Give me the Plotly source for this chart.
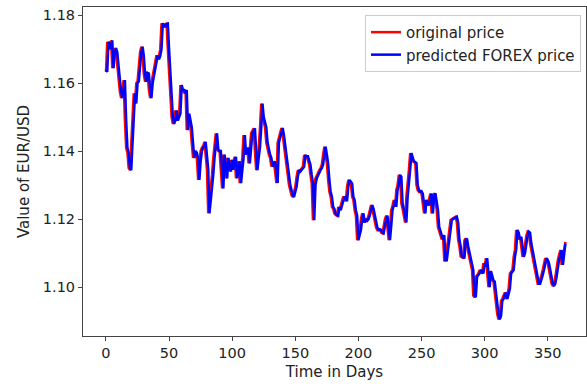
import plotly.graph_objects as go

days = list(range(365))

original_price = [
    1.1633, 1.1721, 1.1715, 1.1700, 1.1726, 1.1644, 1.1690, 1.1703, 1.1690, 1.1650,
    1.1609, 1.1575, 1.1556, 1.1590, 1.1609, 1.1490, 1.1410, 1.1395, 1.1350, 1.1344,
    1.1420, 1.1500, 1.1570, 1.1540, 1.1600, 1.1605, 1.1650, 1.1690, 1.1707, 1.1680,
    1.1625, 1.1604, 1.1630, 1.1628, 1.1580, 1.1556, 1.1600, 1.1620, 1.1638, 1.1660,
    1.1682, 1.1670, 1.1680, 1.1700, 1.1776, 1.1770, 1.1765, 1.1774, 1.1775, 1.1700,
    1.1638, 1.1570, 1.1500, 1.1480, 1.1490, 1.1520, 1.1490, 1.1500, 1.1510, 1.1594,
    1.1580, 1.1580, 1.1570, 1.1580, 1.1462, 1.1510, 1.1490, 1.1470, 1.1423, 1.1380,
    1.1400, 1.1395, 1.1380, 1.1315, 1.1370, 1.1400, 1.1410, 1.1415, 1.1427, 1.1390,
    1.1347, 1.1217, 1.1250, 1.1285, 1.1330, 1.1380, 1.1420, 1.1452, 1.1405, 1.1400,
    1.1400, 1.1350, 1.1290, 1.1390, 1.1360, 1.1320, 1.1380, 1.1360, 1.1340, 1.1374,
    1.1345, 1.1370, 1.1383, 1.1320, 1.1350, 1.1370, 1.1306, 1.1340, 1.1380, 1.1447,
    1.1390, 1.1400, 1.1410, 1.1364, 1.1400, 1.1453, 1.1460, 1.1467, 1.1400, 1.1344,
    1.1380, 1.1410, 1.1468, 1.1540, 1.1500, 1.1480, 1.1470, 1.1425, 1.1400, 1.1390,
    1.1380, 1.1355, 1.1360, 1.1370, 1.1340, 1.1306, 1.1425, 1.1440, 1.1447, 1.1468,
    1.1447, 1.1420, 1.1400, 1.1360, 1.1330, 1.1300, 1.1285, 1.1270, 1.1265, 1.1280,
    1.1295, 1.1324, 1.1344, 1.1340, 1.1344, 1.1350, 1.1354, 1.1388, 1.1385, 1.1385,
    1.1370, 1.1360, 1.1330, 1.1305, 1.1197, 1.1300, 1.1320, 1.1330, 1.1340, 1.1344,
    1.1350, 1.1360, 1.1388, 1.1413, 1.1390, 1.1364, 1.1315, 1.1280, 1.1266, 1.1236,
    1.1230, 1.1216, 1.1212, 1.1210, 1.1236, 1.1226, 1.1240, 1.1250, 1.1266, 1.1260,
    1.1253, 1.1295, 1.1315, 1.1310, 1.1305, 1.1266, 1.1256, 1.1226, 1.1210, 1.1138,
    1.1150, 1.1168, 1.1200, 1.1217, 1.1190, 1.1200, 1.1195, 1.1200, 1.1210, 1.1227,
    1.1241, 1.1230, 1.1210, 1.1190, 1.1175, 1.1168, 1.1170, 1.1168, 1.1160, 1.1158,
    1.1180, 1.1200, 1.1210, 1.1180, 1.1138, 1.1180, 1.1226, 1.1240, 1.1256, 1.1236,
    1.1285, 1.1300, 1.1330, 1.1325, 1.1246, 1.1230, 1.1210, 1.1190, 1.1266, 1.1300,
    1.1345, 1.1394, 1.1380, 1.1370, 1.1368, 1.1365, 1.1300, 1.1285, 1.1280, 1.1282,
    1.1275, 1.1250, 1.1217, 1.1256, 1.1250, 1.1240, 1.1260, 1.1275, 1.1217, 1.1265,
    1.1276, 1.1250, 1.1227, 1.1177, 1.1165, 1.1158, 1.1140, 1.1153, 1.1079, 1.1079,
    1.1110, 1.1138, 1.1170, 1.1197, 1.1200, 1.1202, 1.1205, 1.1207, 1.1190, 1.1140,
    1.1120, 1.1090, 1.1088, 1.1084, 1.1138, 1.1143, 1.1120, 1.1100, 1.1090, 1.1070,
    1.1050, 1.0975, 1.0970, 1.1030, 1.1035, 1.1040, 1.1050, 1.1045, 1.1040, 1.1070,
    1.1060, 1.1085, 1.1030, 1.1000, 1.1047, 1.1030, 1.1020, 1.1016, 1.0980, 1.0940,
    1.0920, 1.0905, 1.0915, 1.0960, 1.0965, 1.0975, 1.0984, 1.0965, 1.0980, 1.0995,
    1.1040, 1.1045, 1.1050, 1.1089, 1.1110, 1.1168, 1.1160, 1.1140, 1.1148, 1.1120,
    1.1089, 1.1100, 1.1130, 1.1150, 1.1163, 1.1160, 1.1128, 1.1109, 1.1085, 1.1070,
    1.1050, 1.1030, 1.1010, 1.1010, 1.1020, 1.1035, 1.1050, 1.1070, 1.1085, 1.1080,
    1.1070, 1.1050, 1.1030, 1.1010, 1.1003, 1.1010, 1.1030, 1.1060, 1.1080, 1.1095,
    1.1109, 1.1065, 1.1100, 1.1110, 1.1133,
]

predicted_price = [
    1.1640, 1.1633, 1.1721, 1.1715, 1.1700, 1.1726, 1.1644, 1.1690, 1.1703, 1.1690,
    1.1650, 1.1609, 1.1575, 1.1556, 1.1590, 1.1609, 1.1490, 1.1410, 1.1395, 1.1350,
    1.1344, 1.1420, 1.1500, 1.1570, 1.1540, 1.1600, 1.1605, 1.1650, 1.1690, 1.1707,
    1.1680, 1.1625, 1.1604, 1.1630, 1.1628, 1.1580, 1.1556, 1.1600, 1.1620, 1.1638,
    1.1660, 1.1682, 1.1670, 1.1680, 1.1700, 1.1776, 1.1770, 1.1765, 1.1774, 1.1775,
    1.1700, 1.1638, 1.1570, 1.1500, 1.1480, 1.1490, 1.1520, 1.1490, 1.1500, 1.1510,
    1.1594, 1.1580, 1.1580, 1.1570, 1.1580, 1.1462, 1.1510, 1.1490, 1.1470, 1.1423,
    1.1380, 1.1400, 1.1395, 1.1380, 1.1315, 1.1370, 1.1400, 1.1410, 1.1415, 1.1427,
    1.1390, 1.1347, 1.1217, 1.1250, 1.1285, 1.1330, 1.1380, 1.1420, 1.1452, 1.1405,
    1.1400, 1.1400, 1.1350, 1.1290, 1.1390, 1.1360, 1.1320, 1.1380, 1.1360, 1.1340,
    1.1374, 1.1345, 1.1370, 1.1383, 1.1320, 1.1350, 1.1370, 1.1306, 1.1340, 1.1380,
    1.1447, 1.1390, 1.1400, 1.1410, 1.1364, 1.1400, 1.1453, 1.1460, 1.1467, 1.1400,
    1.1344, 1.1380, 1.1410, 1.1468, 1.1540, 1.1500, 1.1480, 1.1470, 1.1425, 1.1400,
    1.1390, 1.1380, 1.1355, 1.1360, 1.1370, 1.1340, 1.1306, 1.1425, 1.1440, 1.1447,
    1.1468, 1.1447, 1.1420, 1.1400, 1.1360, 1.1330, 1.1300, 1.1285, 1.1270, 1.1265,
    1.1280, 1.1295, 1.1324, 1.1344, 1.1340, 1.1344, 1.1350, 1.1354, 1.1388, 1.1385,
    1.1385, 1.1370, 1.1360, 1.1330, 1.1305, 1.1197, 1.1300, 1.1320, 1.1330, 1.1340,
    1.1344, 1.1350, 1.1360, 1.1388, 1.1413, 1.1390, 1.1364, 1.1315, 1.1280, 1.1266,
    1.1236, 1.1230, 1.1216, 1.1212, 1.1210, 1.1236, 1.1226, 1.1240, 1.1250, 1.1266,
    1.1260, 1.1253, 1.1295, 1.1315, 1.1310, 1.1305, 1.1266, 1.1256, 1.1226, 1.1210,
    1.1138, 1.1150, 1.1168, 1.1200, 1.1217, 1.1190, 1.1200, 1.1195, 1.1200, 1.1210,
    1.1227, 1.1241, 1.1230, 1.1210, 1.1190, 1.1175, 1.1168, 1.1170, 1.1168, 1.1160,
    1.1158, 1.1180, 1.1200, 1.1210, 1.1180, 1.1138, 1.1180, 1.1226, 1.1240, 1.1256,
    1.1236, 1.1285, 1.1300, 1.1330, 1.1325, 1.1246, 1.1230, 1.1210, 1.1190, 1.1266,
    1.1300, 1.1345, 1.1394, 1.1380, 1.1370, 1.1368, 1.1365, 1.1300, 1.1285, 1.1280,
    1.1282, 1.1275, 1.1250, 1.1217, 1.1256, 1.1250, 1.1240, 1.1260, 1.1275, 1.1217,
    1.1265, 1.1276, 1.1250, 1.1227, 1.1177, 1.1165, 1.1158, 1.1140, 1.1153, 1.1079,
    1.1079, 1.1110, 1.1138, 1.1170, 1.1197, 1.1200, 1.1202, 1.1205, 1.1207, 1.1190,
    1.1140, 1.1120, 1.1090, 1.1088, 1.1084, 1.1138, 1.1143, 1.1120, 1.1100, 1.1090,
    1.1070, 1.1050, 1.0975, 1.0970, 1.1030, 1.1035, 1.1040, 1.1050, 1.1045, 1.1040,
    1.1070, 1.1060, 1.1085, 1.1030, 1.1000, 1.1047, 1.1030, 1.1020, 1.1016, 1.0980,
    1.0940, 1.0920, 1.0905, 1.0915, 1.0960, 1.0965, 1.0975, 1.0984, 1.0965, 1.0980,
    1.0995, 1.1040, 1.1045, 1.1050, 1.1089, 1.1110, 1.1168, 1.1160, 1.1140, 1.1148,
    1.1120, 1.1089, 1.1100, 1.1130, 1.1150, 1.1163, 1.1160, 1.1128, 1.1109, 1.1085,
    1.1070, 1.1050, 1.1030, 1.1010, 1.1010, 1.1020, 1.1035, 1.1050, 1.1070, 1.1085,
    1.1080, 1.1070, 1.1050, 1.1030, 1.1010, 1.1003, 1.1010, 1.1030, 1.1060, 1.1080,
    1.1095, 1.1109, 1.1065, 1.1100, 1.1128,
]

x_ticks = [0, 50, 100, 150, 200, 250, 300, 350]
y_ticks = [1.10, 1.12, 1.14, 1.16, 1.18]
y_tick_labels = ["1.10", "1.12", "1.14", "1.16", "1.18"]

FONT = "DejaVu Sans"

fig = go.Figure()
fig.add_trace(go.Scatter(x=days, y=original_price, mode="lines", name="original price",
                         line=dict(color="#ff0000", width=2.5)))
fig.add_trace(go.Scatter(x=days, y=predicted_price, mode="lines", name="predicted FOREX price",
                         line=dict(color="#0000ff", width=2.5)))

axis_common = dict(showline=True, mirror=True, linecolor="#444444", linewidth=1,
                   ticks="outside", ticklen=4, tickcolor="#444444", showgrid=False,
                   zeroline=False, tickfont=dict(family=FONT, size=14.5, color="#222222"))

fig.update_layout(
    width=587, height=387,
    margin=dict(l=83, r=1, t=7, b=51),
    paper_bgcolor="white", plot_bgcolor="white",
    font=dict(family=FONT, size=15, color="#222222"),
    xaxis=dict(range=[-18.2, 380.3], tickvals=x_ticks,
               title=dict(text="Time in Days", font=dict(family=FONT, size=15), standoff=6),
               **axis_common),
    yaxis=dict(range=[1.0856, 1.1824], tickvals=y_ticks, ticktext=y_tick_labels,
               title=dict(text="Value of EUR/USD", font=dict(family=FONT, size=15), standoff=9),
               **axis_common),
    legend=dict(x=0.99, y=0.976, xanchor="right", yanchor="top",
                bgcolor="white", bordercolor="#cccccc", borderwidth=1,
                font=dict(family=FONT, size=15, color="#222222"),
                tracegroupgap=0),
    showlegend=True,
)

fig.write_html("out.html")
